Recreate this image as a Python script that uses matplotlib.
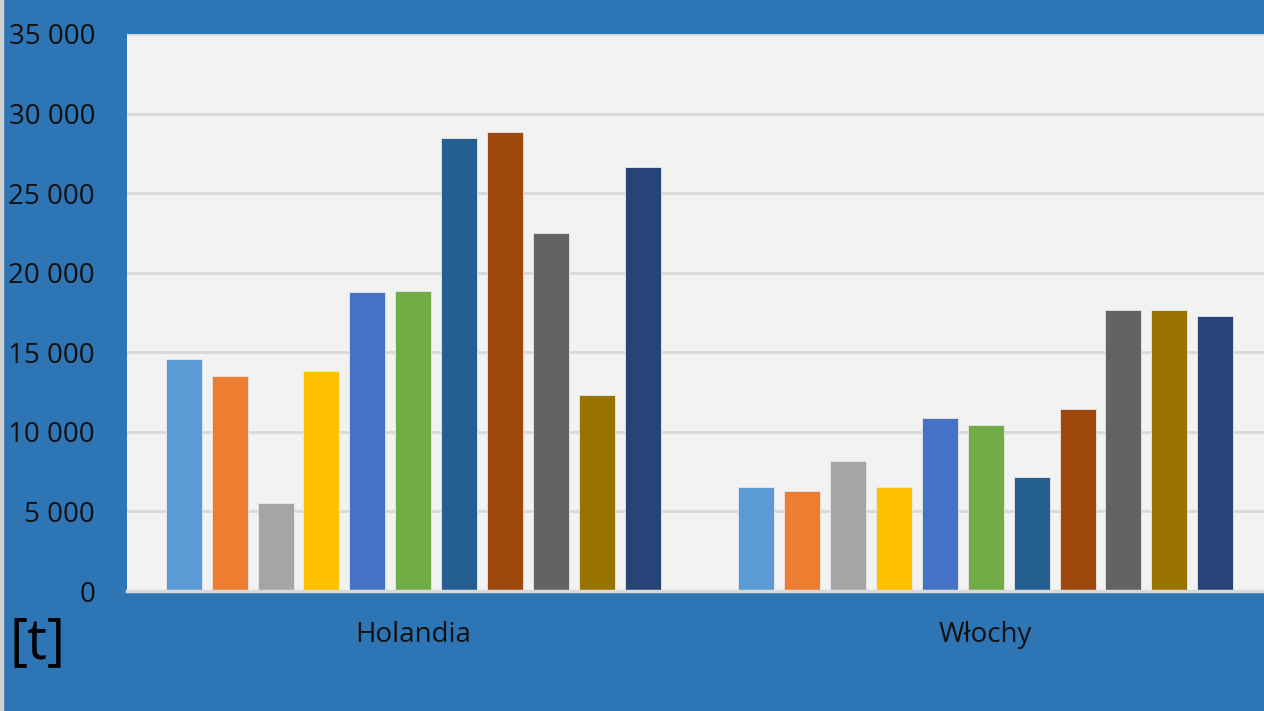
import numpy as np
import matplotlib.pyplot as plt
from matplotlib.patches import Rectangle

kraje = ['Holandia', 'Włochy']
holandia = [14600, 13500, 5550, 13850, 18760, 18880, 28450, 28830, 22470, 12340, 26630]
wlochy = [6550, 6300, 8180, 6550, 10900, 10450, 7180, 11460, 17650, 17650, 17250]
kolory = ['#5B9BD5', '#ED7D31', '#A5A5A5', '#FFC000', '#4472C4', '#70AD47',
          '#255E91', '#9E480E', '#636363', '#997300', '#264478']

plt.rcParams['font.family'] = ['Open Sans', 'DejaVu Sans']

fig = plt.figure(figsize=(12.64, 7.11), dpi=100, facecolor='#2E75B6')
fig.patches.append(Rectangle((0, 0), 3 / 1264, 1, transform=fig.transFigure,
                             color='#D0D0D0', zorder=0))
ax = fig.add_axes([127 / 1264, 1 - 591 / 711, 1145 / 1264, 557 / 711])
ax.set_facecolor('#F2F2F2')

dane = np.array([holandia, wlochy])
n = dane.shape[1]
krok = 45.9 / 572.5
szer = 36 / 572.5
x = np.arange(len(kraje))
for i in range(n):
    ax.bar(x + (i - (n - 1) / 2) * krok, dane[:, i], width=szer, color=kolory[i],
           edgecolor='#E8E8E8', linewidth=0.6, zorder=3)

ax.set_xlim(-0.5, 1.5)
ax.set_ylim(0, 35000)
ax.set_yticks(range(0, 35001, 5000))
ax.set_yticklabels([f'{v:,}'.replace(',', ' ') for v in range(0, 35001, 5000)])
ax.set_xticks(x)
ax.set_xticklabels(kraje)
ax.grid(axis='y', color='#D9D9D9', linewidth=2, zorder=1)
for s in ['top', 'right', 'left']:
    ax.spines[s].set_visible(False)
ax.spines['bottom'].set_color('#D9D9D9')
ax.spines['bottom'].set_linewidth(2.5)
ax.spines['bottom'].set_zorder(4)
ax.tick_params(axis='y', length=0, pad=23, labelsize=20, labelcolor='#111111')
ax.tick_params(axis='x', length=0, pad=21.5, labelsize=20, labelcolor='#111111')

fig.text(10 / 1264, 1 - 644 / 711, '[t]', fontsize=40, color='black', va='center', ha='left')

fig.savefig('out.png', dpi=100, facecolor=fig.get_facecolor())
